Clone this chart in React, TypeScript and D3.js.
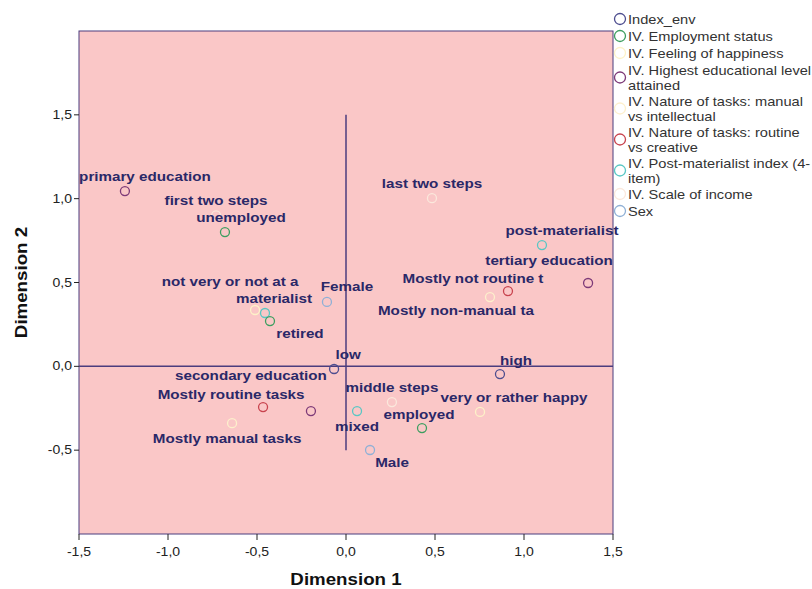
import React from 'react';
import * as d3 from 'd3';

// legend / variables
const legendLines = [
  ['Index_env'],
  ['IV. Employment status'],
  ['IV. Feeling of happiness'],
  ['IV. Highest educational level', 'attained'],
  ['IV. Nature of tasks: manual', 'vs intellectual'],
  ['IV. Nature of tasks: routine', 'vs creative'],
  ['IV. Post-materialist index (4-', 'item)'],
  ['IV. Scale of income'],
  ['Sex'],
];
const variableColors = ['#4d4d8f', '#3d9e60', '#fdf2c8', '#7d3a78', '#fdf0cc', '#c8434e', '#58c7c4', '#fbe8dc', '#8fb0d6'];

// category points
const categories = ['primary education', 'first two steps', 'unemployed', 'last two steps', 'post-materialist', 'tertiary education',
  'Mostly not routine t', 'Mostly non-manual ta', 'Female', 'not very or not at a', 'materialist', 'retired', 'low', 'high',
  'secondary education', 'Mostly routine tasks', 'Mostly manual tasks', 'middle steps', 'very or rather happy', 'employed', 'mixed', 'Male'];
const catVariable = [3, 7, 1, 7, 6, 3, 5, 4, 8, 2, 6, 1, 0, 0, 3, 5, 4, 7, 2, 1, 6, 8];
const dim1 = [-1.242, -0.73, -0.68, 0.483, 1.101, 1.36, 0.91, 0.809, -0.107, -0.511, -0.455, -0.427, -0.067, 0.865,
  -0.197, -0.466, -0.64, 0.258, 0.753, 0.427, 0.062, 0.135];
const dim2 = [1.045, 0.9, 0.801, 1.003, 0.723, 0.497, 0.449, 0.413, 0.384, 0.336, 0.318, 0.27, -0.016, -0.046,
  -0.267, -0.243, -0.339, -0.213, -0.272, -0.368, -0.267, -0.499];

const xTicks = [-1.5, -1.0, -0.5, 0.0, 0.5, 1.0, 1.5];
const yTicks = [-0.5, 0.0, 0.5, 1.0, 1.5];

// label placement (pixels, relative to the point)
const labelOffset: Record<string, [number, number]> = {
  'primary education': [20, -15], 'first two steps': [0, -15], unemployed: [16, -15], 'last two steps': [0, -15],
  'post-materialist': [20, -15], 'tertiary education': [-39, -23], 'Mostly not routine t': [-35, -13],
  'Mostly non-manual ta': [-34, 13], Female: [20, -15], 'not very or not at a': [-25, -28], materialist: [9, -15],
  retired: [30, 12], low: [14, -15], high: [16, -14], 'secondary education': [-60, -36], 'Mostly routine tasks': [-32, -13],
  'Mostly manual tasks': [-5, 15], 'middle steps': [0, -15], 'very or rather happy': [34, -14], employed: [-3, -14],
  mixed: [0, 15], Male: [22, 13],
};

const fmt = (v: number) => d3.format('.1f')(v).replace('.', ',').replace('\u2212', '-');
const SX = 1.17; // the original text is a bit stretched horizontally

export default function App() {
  const W = 812, H = 589;
  const left = 79, right = 613, top = 31, bottom = 534;
  const x = d3.scaleLinear().domain([-1.5, 1.5]).range([left, right]);
  const y = d3.scaleLinear().domain([-1, 2]).range([bottom, top]);
  const frame = '#4b3d7e';
  const labelColor = '#2a2868';
  const T = (tx: number, ty: number) => `translate(${tx},${ty}) scale(${SX},1)`;

  return (
    <svg width={W} height={H} style={{ position: 'absolute', left: 0, top: 0, background: '#fff' }}
      fontFamily="Arial, 'Liberation Sans', sans-serif">
      <rect x={left} y={top} width={right - left} height={bottom - top} fill="#fac7c7" stroke={frame} strokeWidth={1} />
      {/* reference lines */}
      <line x1={left} x2={right} y1={y(0)} y2={y(0)} stroke={frame} strokeWidth={1.5} />
      <line x1={x(0)} x2={x(0)} y1={y(1.5)} y2={y(-0.5)} stroke={frame} strokeWidth={1.5} />

      {/* y axis */}
      {yTicks.map(t => (
        <g key={'y' + t}>
          <line x1={left - 5} x2={left} y1={y(t)} y2={y(t)} stroke="#222" />
          <text transform={T(left - 7, y(t) + 4)} textAnchor="end" fontSize={12} fill="#222">{fmt(t)}</text>
        </g>
      ))}
      {/* x axis */}
      {xTicks.map(t => (
        <g key={'x' + t}>
          <line x1={x(t)} x2={x(t)} y1={bottom} y2={bottom + 6} stroke="#222" />
          <text transform={T(x(t), bottom + 22)} textAnchor="middle" fontSize={12} fill="#222">{fmt(t)}</text>
        </g>
      ))}
      <text transform={T((left + right) / 2, 585)} textAnchor="middle" fontSize={16} fontWeight="bold" fill="#111">Dimension 1</text>
      <text transform={`translate(27,${(top + bottom) / 2}) rotate(-90) scale(${SX},1)`} textAnchor="middle" fontSize={16} fontWeight="bold" fill="#111">Dimension 2</text>

      {/* points */}
      {categories.map((c, i) => (
        <circle key={'p' + c} cx={x(dim1[i])} cy={y(dim2[i])} r={4.5} fill="none"
          stroke={variableColors[catVariable[i]]} strokeWidth={1.3} />
      ))}
      {categories.map((c, i) => {
        const [dx, dy] = labelOffset[c] || [0, -15];
        return (
          <text key={'l' + c} transform={T(x(dim1[i]) + dx, y(dim2[i]) + dy + 4.5)} textAnchor="middle"
            fontSize={13} fontWeight="bold" fill={labelColor}>{c}</text>
        );
      })}

      {/* legend */}
      {(() => {
        let yy = 19;
        return legendLines.map((lines, i) => {
          const cy = yy + (lines.length - 1) * 7.5;
          const g = (
            <g key={'leg' + i}>
              <circle cx={620} cy={cy} r={5.5} fill="none" stroke={variableColors[i]} strokeWidth={1.3} />
              {lines.map((ln, j) => (
                <text key={j} transform={T(628, yy + 4.5 + j * 15)} fontSize={12.5} fill="#333">{ln}</text>
              ))}
            </g>
          );
          yy += lines.length === 1 ? 17 : 31;
          return g;
        });
      })()}
    </svg>
  );
}
